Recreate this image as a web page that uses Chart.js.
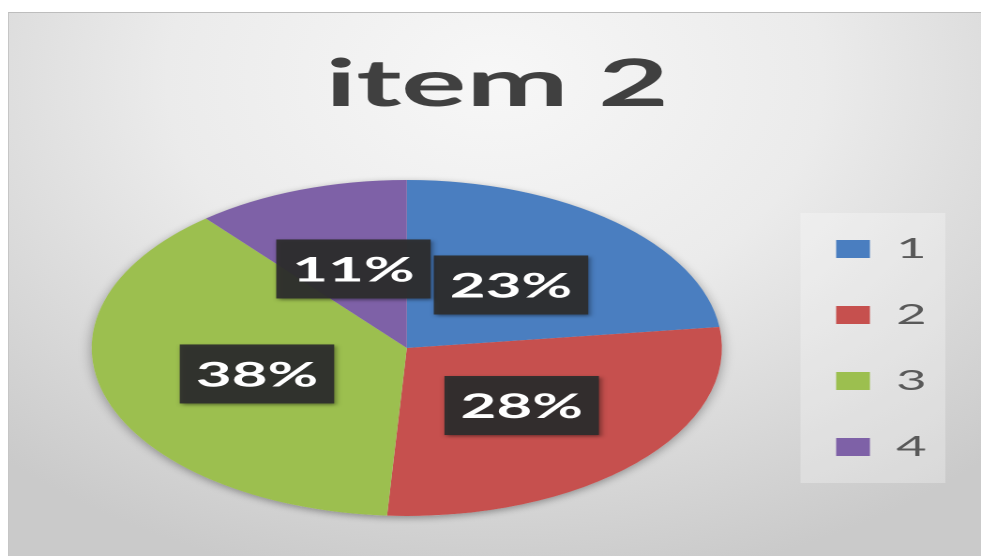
<!DOCTYPE html>
<html>
<head>
<meta charset="utf-8">
<script src="https://cdn.jsdelivr.net/npm/chart.js@4.4.1/dist/chart.umd.min.js"></script>
<style>
  html, body { margin: 0; padding: 0; background: #fff; overflow: hidden; }
  #panel {
    position: absolute; left: 8px; top: 12px; width: 973px; height: 544px;
    box-sizing: border-box;
    border-top: 1px solid #bdbdbd; border-left: 1px solid #c6c6c6;
    background: radial-gradient(ellipse 75% 95% at 50% 12%, #f7f7f7 0%, #ebebeb 45%, #d6d6d6 80%, #cacaca 100%);
  }
  /* the reference is a stretched picture: draw narrow, then stretch sideways */
  #wrap {
    position: absolute; left: 0; top: 0; width: 523px; height: 556px;
    transform: scaleX(1.8757); transform-origin: 0 0;
  }
</style>
</head>
<body>
<div id="panel"></div>
<div id="wrap"><canvas id="chart"></canvas></div>
<script>
let categories = ['1', '2', '3', '4'];
let values = [23, 28, 38, 11];
let colors = ['#4a7ec0', '#c6504e', '#9cbf4f', '#7e61a7'];
let chartTitle = 'item 2';

// soft shadow under the pie
const pieShadow = {
    id: 'pieShadow',
    beforeDatasetsDraw(chart) {
        const arc = chart.getDatasetMeta(0).data[0];
        if (!arc) return;
        const ctx = chart.ctx;
        ctx.save();
        ctx.shadowColor = 'rgba(0,0,0,0.35)';
        ctx.shadowBlur = 14;
        ctx.shadowOffsetY = 4;
        ctx.fillStyle = '#d8d8d8';
        ctx.beginPath();
        ctx.arc(arc.x, arc.y, arc.outerRadius, 0, Math.PI * 2);
        ctx.fill();
        ctx.restore();
    }
};

// light panel behind the legend
const legendPanel = {
    id: 'legendPanel',
    beforeDraw(chart) {
        const lg = chart.legend;
        if (!lg || !lg.legendHitBoxes.length) return;
        const hb = lg.legendHitBoxes;
        const top = hb[0].top - 22;
        const bottom = hb[hb.length - 1].top + hb[hb.length - 1].height + 22;
        const ctx = chart.ctx;
        ctx.save();
        ctx.fillStyle = 'rgba(255,255,255,0.28)';
        ctx.fillRect(lg.left + 19, top, lg.right - lg.left - 19, bottom - top);
        ctx.restore();
    }
};

// dark boxes with percentages
const boxLabels = {
    id: 'boxLabels',
    afterDatasetsDraw(chart) {
        const ctx = chart.ctx;
        const meta = chart.getDatasetMeta(0);
        const total = values.reduce((a, b) => a + b, 0);
        ctx.save();
        ctx.font = 'bold 33px Lato';
        ctx.textAlign = 'center';
        ctx.textBaseline = 'middle';
        meta.data.forEach((arc, i) => {
            const p = arc.getCenterPoint();
            const txt = Math.round(values[i] / total * 100) + '%';
            const w = ctx.measureText(txt).width + 17;
            const h = 59;
            ctx.shadowColor = 'rgba(0,0,0,0.45)';
            ctx.shadowBlur = 6;
            ctx.shadowOffsetX = 2;
            ctx.shadowOffsetY = 3;
            ctx.fillStyle = 'rgba(45,45,45,0.93)';
            ctx.fillRect(p.x - w / 2, p.y - h / 2, w, h);
            ctx.shadowColor = 'transparent';
            ctx.fillStyle = '#ffffff';
            ctx.fillText(txt, p.x, p.y + 2);
        });
        ctx.restore();
    }
};

new Chart(document.getElementById('chart'), {
    type: 'pie',
    data: {
        labels: categories,
        datasets: [{
            data: values,
            backgroundColor: colors,
            borderWidth: 0
        }]
    },
    options: {
        responsive: true,
        maintainAspectRatio: false,
        animation: false,
        devicePixelRatio: 2,
        layout: { padding: { left: 26, right: 19, top: 0, bottom: 40 } },
        plugins: {
            title: {
                display: true,
                text: chartTitle,
                color: '#404040',
                font: { family: 'Lato', size: 65, weight: 'bold' },
                padding: { top: 46, bottom: 56 }
            },
            legend: {
                position: 'right',
                fullSize: false,
                labels: {
                    boxWidth: 18,
                    boxHeight: 18,
                    padding: 38,
                    color: '#595959',
                    font: { family: 'Lato', size: 28 }
                }
            },
            tooltip: { enabled: false }
        }
    },
    plugins: [pieShadow, legendPanel, boxLabels]
});
</script>
</body>
</html>
